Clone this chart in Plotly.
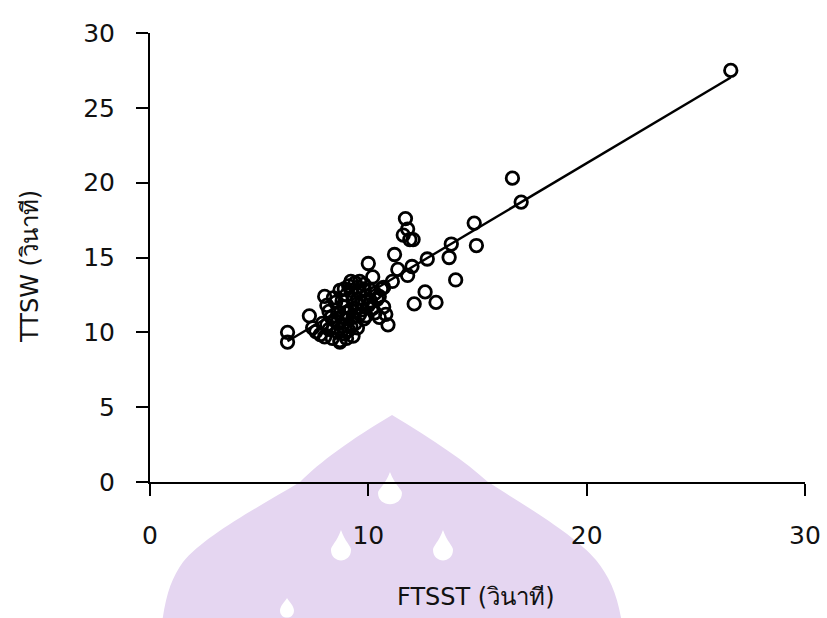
import plotly.graph_objects as go

# ---- data ----
ftsst = [6.3, 6.3, 7.3, 7.45, 7.6, 7.8, 7.9, 8.0, 8.1, 8.0, 8.2, 8.3, 8.35, 8.45, 8.5, 8.6,
         8.7, 8.7, 8.8, 8.9, 8.9, 9.0, 9.0, 9.1, 9.1, 9.2, 9.2, 9.3, 9.3, 9.4, 9.5, 9.5,
         9.6, 9.6, 9.7, 9.8, 9.8, 9.9, 10.0, 10.0, 10.1, 10.2, 10.3, 10.4, 10.5, 10.6,
         10.7, 10.8, 10.9, 10.7, 11.1, 11.2, 11.35, 11.6, 11.7, 11.8, 11.8, 11.9, 12.0,
         12.05, 12.1, 12.6, 12.7, 13.1, 13.7, 13.8, 14.0, 14.85, 14.95, 16.6, 17.0, 26.6,
         8.2, 8.6, 8.9, 9.2, 9.4, 8.7,
         8.4, 8.8, 9.0, 9.3, 9.5, 9.7, 9.9, 10.1, 8.6, 8.1, 8.8, 9.2, 9.6, 10.3, 10.5,
         9.0, 8.4, 9.4, 9.8, 10.2]
ttsw = [10.0, 9.35, 11.1, 10.3, 10.05, 9.85, 10.6, 12.4, 11.8, 9.7, 10.2, 11.0, 9.6, 10.8,
        12.0, 11.3, 12.8, 9.45, 10.4, 11.7, 9.9, 12.5, 10.9, 13.1, 10.15, 13.4, 11.5, 12.2,
        9.75, 10.6, 13.0, 11.9, 12.7, 11.2, 12.0, 13.2, 10.9, 12.4, 14.6, 11.8, 12.8, 13.7,
        11.3, 12.2, 11.0, 12.9, 11.7, 11.2, 10.5, 13.0, 13.4, 15.2, 14.2, 16.5, 17.6, 16.9,
        13.8, 16.2, 14.4, 16.2, 11.9, 12.7, 14.9, 12.0, 15.0, 15.9, 13.5, 17.3, 15.8, 20.3,
        18.7, 27.5, 11.4, 10.0, 12.9, 10.4, 13.3, 9.35,
        12.3, 12.1, 11.3, 11.0, 10.3, 11.5, 11.1, 12.1, 10.7, 10.5, 11.0, 12.8, 13.4, 12.6,
        12.4, 9.6, 10.3, 11.6, 12.9, 11.6]

fit_slope = 0.868
fit_intercept = 3.94

x_ticks = [0, 10, 20, 30]
y_ticks = [0, 5, 10, 15, 20, 25, 30]
x_title = "FTSST (วินาที)"
y_title = "TTSW (วินาที)"

# ---- geometry (body margin removed via post_script, so figure = window) ----
W, H = 827, 618
L, T = 150, 33
R = W - 805
B = H - 482
pw, ph = W - L - R, H - T - B


def px(x):  # window pixel -> paper
    return (x - L) / pw


def py(y):
    return (H - B - y) / ph


def path(pts_cmds):
    out = []
    for cmd, pts in pts_cmds:
        coords = " ".join(f"{px(a):.4f},{py(b):.4f}" for a, b in pts)
        out.append(f"{cmd} {coords}")
    return " ".join(out) + " Z"


lav = "#E5D6F1"
dome = path([
    ("M", [(392, 415)]),
    ("C", [(350, 440), (320, 462), (300, 482)]),
    ("C", [(262, 505), (205, 535), (183, 562)]),
    ("C", [(170, 580), (164, 600), (160, 640)]),
    ("L", [(624, 640)]),
    ("C", [(620, 600), (612, 580), (596, 560)]),
    ("C", [(575, 535), (524, 505), (488, 482)]),
    ("C", [(466, 462), (434, 440), (392, 415)]),
])


def flame(cx, top, bot, hw):
    mid = top + (bot - top) * 0.62
    return path([
        ("M", [(cx, top)]),
        ("C", [(cx - hw * 0.4, mid - 8), (cx - hw, mid - 4), (cx - hw, mid)]),
        ("C", [(cx - hw, bot + 2), (cx + hw, bot + 2), (cx + hw, mid)]),
        ("C", [(cx + hw, mid - 4), (cx + hw * 0.4, mid - 8), (cx, top)]),
    ])


def bar(x0, x1, y0, y1):
    return path([("M", [(x0, y0), (x1, y0), (x1, y1), (x0, y1)])])


shapes = [dict(type="path", path=dome, xref="paper", yref="paper", fillcolor=lav,
               line=dict(width=0), layer="below")]
for p in [flame(390, 472, 506, 12), flame(341, 530, 562, 10), flame(443, 530, 562, 10),
          bar(386, 395, 512, 640), bar(338, 345, 568, 640), bar(440, 447, 568, 640),
          flame(287, 598, 618, 7)]:
    shapes.append(dict(type="path", path=p, xref="paper", yref="paper", fillcolor="white",
                       line=dict(width=0), layer="below"))

# ---- figure ----
fig = go.Figure()
fig.add_trace(go.Scatter(
    x=ftsst, y=ttsw, mode="markers",
    marker=dict(symbol="circle-open", size=12.5, color="black", line=dict(width=2.8, color="black")),
    showlegend=False, cliponaxis=False,
))
x_lo, x_hi = min(ftsst), max(ftsst)
fig.add_trace(go.Scatter(
    x=[x_lo, x_hi], y=[fit_intercept + fit_slope * x_lo, fit_intercept + fit_slope * x_hi],
    mode="lines", line=dict(color="black", width=2.4), showlegend=False,
))

axis_font = dict(family="DejaVu Sans, Noto Sans, sans-serif", size=25, color="#111")
title_font = dict(family="DejaVu Sans, Noto Sans, sans-serif", size=24, color="#111")
fig.update_layout(
    width=W, height=H,
    margin=dict(l=L, r=R, t=T, b=B, autoexpand=False),
    paper_bgcolor="white", plot_bgcolor="rgba(0,0,0,0)",
    shapes=shapes,
    xaxis=dict(range=[0, 30], tickvals=x_ticks, ticks="outside", ticklen=12, tickwidth=2,
               tickcolor="black", showline=True, linecolor="black", linewidth=2,
               showgrid=False, zeroline=False, tickfont=axis_font, ticklabelstandoff=18,
               automargin=False, ticklabeloverflow="allow"),
    yaxis=dict(range=[0, 30], tickvals=y_ticks, ticks="outside", ticklen=12, tickwidth=2,
               tickcolor="black", showline=True, linecolor="black", linewidth=2,
               showgrid=False, zeroline=False, tickfont=axis_font, ticklabelstandoff=16,
               automargin=False),
    annotations=[
        dict(text=x_title, xref="paper", yref="paper", x=px(476), y=py(597), showarrow=False,
             xanchor="center", yanchor="middle", font=title_font),
        dict(text=y_title, xref="paper", yref="paper", x=px(30), y=py(267), showarrow=False,
             textangle=-90, xanchor="center", yanchor="middle", font=title_font),
    ],
)

fig.write_html("out.html", config={"displayModeBar": False},
               post_script="document.body.style.margin='0';document.body.style.overflow='hidden';")
